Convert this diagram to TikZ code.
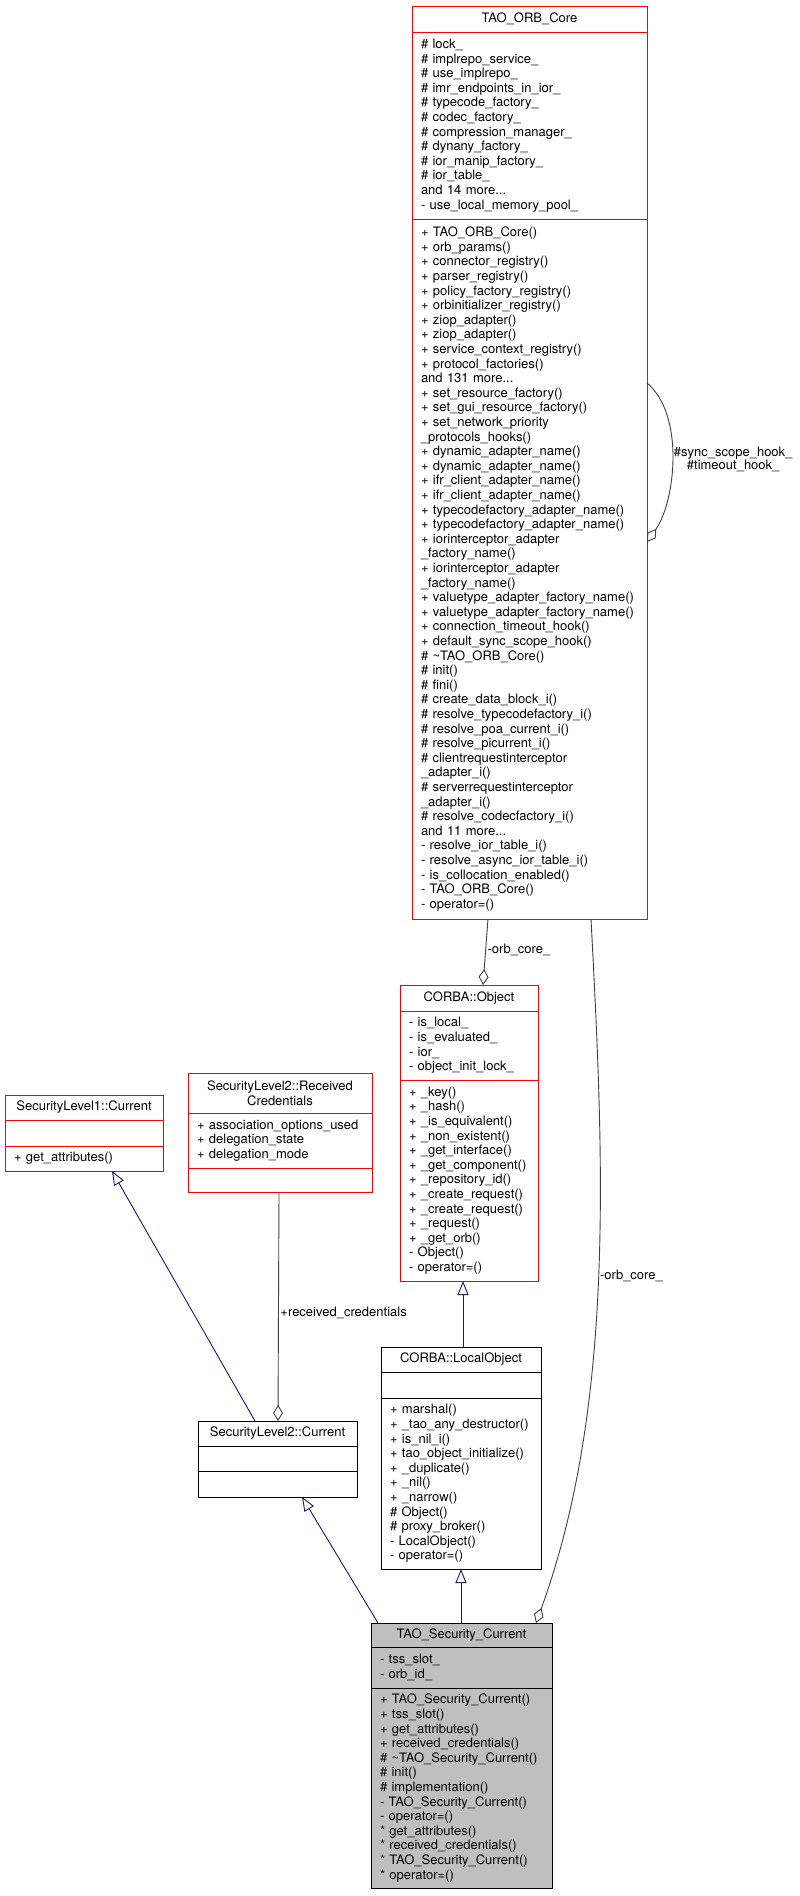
\documentclass[tikz,border=0pt]{standalone}
\usepackage{fontspec}
\setmainfont{TeX Gyre Heros}
\usepackage{xcolor}
\usepackage{tikz}
\usetikzlibrary{arrows.meta, positioning}
\definecolor{midnight}{HTML}{191970}
\definecolor{edgegray}{HTML}{404040}

\begin{document}
\begin{tikzpicture}[x=1pt, y=-1pt,
            every node/.style={font=\fontsize{13}{14.6}\selectfont, inner ysep=0pt, outer sep=0pt},
            redbox/.style={draw=red, line width=1pt, fill=white, inner xsep=9pt, align=left},
            blackbox/.style={draw=black, line width=1pt, fill=white, inner xsep=9pt, align=left},
            graybox/.style={blackbox, fill=gray!50},
            inh/.style={draw=midnight, line width=0.9pt, -{Triangle[open, length=14pt, width=11pt]}},
            agg/.style={draw=edgegray, line width=0.9pt, -{Diamond[open, length=16pt, width=10pt]}},
            lbl/.style={font=\fontsize{13}{13}\selectfont, inner xsep=2pt, align=center},
        ]
        \useasboundingbox (0,0) rectangle (800,1896);

        % TAO_ORB_Core
        \node (coreName) at (412,6) [redbox, anchor=north west, text width=217pt, minimum height=26pt, align=center] {TAO\_ORB\_Core};
        \node (coreAttr) [redbox, below=0pt of coreName, text width=217pt, minimum height=187pt]
            {\# lock\_\\\# implrepo\_service\_\\\# use\_implrepo\_\\\# imr\_endpoints\_in\_ior\_\\\# typecode\_factory\_\\\# codec\_factory\_\\\# compression\_manager\_\\\# dynany\_factory\_\\\# ior\_manip\_factory\_\\\# ior\_table\_\\and 14 more...\\- use\_local\_memory\_pool\_};
        \node (coreMeth) [redbox, below=0pt of coreAttr, text width=217pt, minimum height=700pt]
            {+ TAO\_ORB\_Core()\\+ orb\_params()\\+ connector\_registry()\\+ parser\_registry()\\+ policy\_factory\_registry()\\+ orbinitializer\_registry()\\+ ziop\_adapter()\\+ ziop\_adapter()\\+ service\_context\_registry()\\+ protocol\_factories()\\and 131 more...\\+ set\_resource\_factory()\\+ set\_gui\_resource\_factory()\\+ set\_network\_priority\\\_protocols\_hooks()\\+ dynamic\_adapter\_name()\\+ dynamic\_adapter\_name()\\+ ifr\_client\_adapter\_name()\\+ ifr\_client\_adapter\_name()\\+ typecodefactory\_adapter\_name()\\+ typecodefactory\_adapter\_name()\\+ iorinterceptor\_adapter\\\_factory\_name()\\+ iorinterceptor\_adapter\\\_factory\_name()\\+ valuetype\_adapter\_factory\_name()\\+ valuetype\_adapter\_factory\_name()\\+ connection\_timeout\_hook()\\+ default\_sync\_scope\_hook()\\\# \textasciitilde{}TAO\_ORB\_Core()\\\# init()\\\# fini()\\\# create\_data\_block\_i()\\\# resolve\_typecodefactory\_i()\\\# resolve\_poa\_current\_i()\\\# resolve\_picurrent\_i()\\\# clientrequestinterceptor\\\_adapter\_i()\\\# serverrequestinterceptor\\\_adapter\_i()\\\# resolve\_codecfactory\_i()\\and 11 more...\\- resolve\_ior\_table\_i()\\- resolve\_async\_ior\_table\_i()\\- is\_collocation\_enabled()\\- TAO\_ORB\_Core()\\- operator=()};

        % CORBA::Object
        \node (objName) at (400,985) [redbox, anchor=north west, text width=120pt, minimum height=26pt, align=center] {CORBA::Object};
        \node (objAttr) [redbox, below=0pt of objName, text width=120pt, minimum height=69pt]
            {- is\_local\_\\- is\_evaluated\_\\- ior\_\\- object\_init\_lock\_};
        \node (objMeth) [redbox, below=0pt of objAttr, text width=120pt, minimum height=201pt]
            {+ \_key()\\+ \_hash()\\+ \_is\_equivalent()\\+ \_non\_existent()\\+ \_get\_interface()\\+ \_get\_component()\\+ \_repository\_id()\\+ \_create\_request()\\+ \_create\_request()\\+ \_request()\\+ \_get\_orb()\\- Object()\\- operator=()};

        % SecurityLevel1::Current
        \node (sl1Name) at (5,1095) [redbox, anchor=north west, text width=140pt, minimum height=25pt, align=center] {SecurityLevel1::Current};
        \node (sl1Attr) [redbox, below=0pt of sl1Name, text width=140pt, minimum height=26pt] {};
        \node (sl1Meth) [redbox, below=0pt of sl1Attr, text width=140pt, minimum height=25pt] {+ get\_attributes()};

        % SecurityLevel2::ReceivedCredentials
        \node (rcName) at (188,1073) [redbox, anchor=north west, text width=166pt, minimum height=40pt, align=center] {SecurityLevel2::Received\\Credentials};
        \node (rcAttr) [redbox, below=0pt of rcName, text width=166pt, minimum height=55pt]
            {+ association\_options\_used\\+ delegation\_state\\+ delegation\_mode};
        \node (rcMeth) [redbox, below=0pt of rcAttr, text width=166pt, minimum height=24pt] {};

        % SecurityLevel2::Current
        \node (sl2Name) at (198,1421) [blackbox, anchor=north west, text width=141pt, minimum height=25pt, align=center] {SecurityLevel2::Current};
        \node (sl2Attr) [blackbox, below=0pt of sl2Name, text width=141pt, minimum height=25pt] {};
        \node (sl2Meth) [blackbox, below=0pt of sl2Attr, text width=141pt, minimum height=26pt] {};

        % CORBA::LocalObject
        \node (loName) at (381,1347) [blackbox, anchor=north west, text width=142pt, minimum height=25pt, align=center] {CORBA::LocalObject};
        \node (loAttr) [blackbox, below=0pt of loName, text width=142pt, minimum height=26pt] {};
        \node (loMeth) [blackbox, below=0pt of loAttr, text width=142pt, minimum height=171pt]
            {+ marshal()\\+ \_tao\_any\_destructor()\\+ is\_nil\_i()\\+ tao\_object\_initialize()\\+ \_duplicate()\\+ \_nil()\\+ \_narrow()\\\# Object()\\\# proxy\_broker()\\- LocalObject()\\- operator=()};

        % TAO_Security_Current
        \node (taoName) at (371,1623) [graybox, anchor=north west, text width=163pt, minimum height=24pt, align=center] {TAO\_Security\_Current};
        \node (taoAttr) [graybox, below=0pt of taoName, text width=163pt, minimum height=41pt]
            {- tss\_slot\_\\- orb\_id\_};
        \node (taoMeth) [graybox, below=0pt of taoAttr, text width=163pt, minimum height=200pt]
            {+ TAO\_Security\_Current()\\+ tss\_slot()\\+ get\_attributes()\\+ received\_credentials()\\\# \textasciitilde{}TAO\_Security\_Current()\\\# init()\\\# implementation()\\- TAO\_Security\_Current()\\- operator=()\\{}* get\_attributes()\\{}* received\_credentials()\\{}* TAO\_Security\_Current()\\{}* operator=()};

        \draw[inh] ([xshift=7pt]taoName.north west) -- ([xshift=104pt]sl2Meth.south west);
        \draw[inh] ([xshift=90pt]taoName.north west) -- ([xshift=80pt]loMeth.south west);
        \draw[inh] ([xshift=82pt]loName.north west) -- ([xshift=63pt]objMeth.south west);
        \draw[inh] ([xshift=57pt]sl2Name.north west) -- ([xshift=107pt]sl1Meth.south west);
        \draw[agg] ([xshift=91pt]rcMeth.south west) -- node[lbl, right, pos=0.53] {+received\_credentials} ([xshift=80pt]sl2Name.north west);
        \draw[agg] ([xshift=76pt]coreMeth.south west) -- node[lbl, right, pos=0.47] {-orb\_core\_} ([xshift=83pt]objName.north west);
        \draw[agg] ([xshift=179pt]coreMeth.south west) to[out=-87, in=70, looseness=0.85] node[lbl, right] {-orb\_core\_} ([xshift=165pt]taoName.north west);
        \draw[agg] ([yshift=-164pt]coreMeth.north east) to[out=-40, in=55, looseness=0.8] node[lbl, right] {\#sync\_scope\_hook\_\\\#timeout\_hook\_} ([yshift=-323pt]coreMeth.north east);
        \end{tikzpicture}
\end{document}
